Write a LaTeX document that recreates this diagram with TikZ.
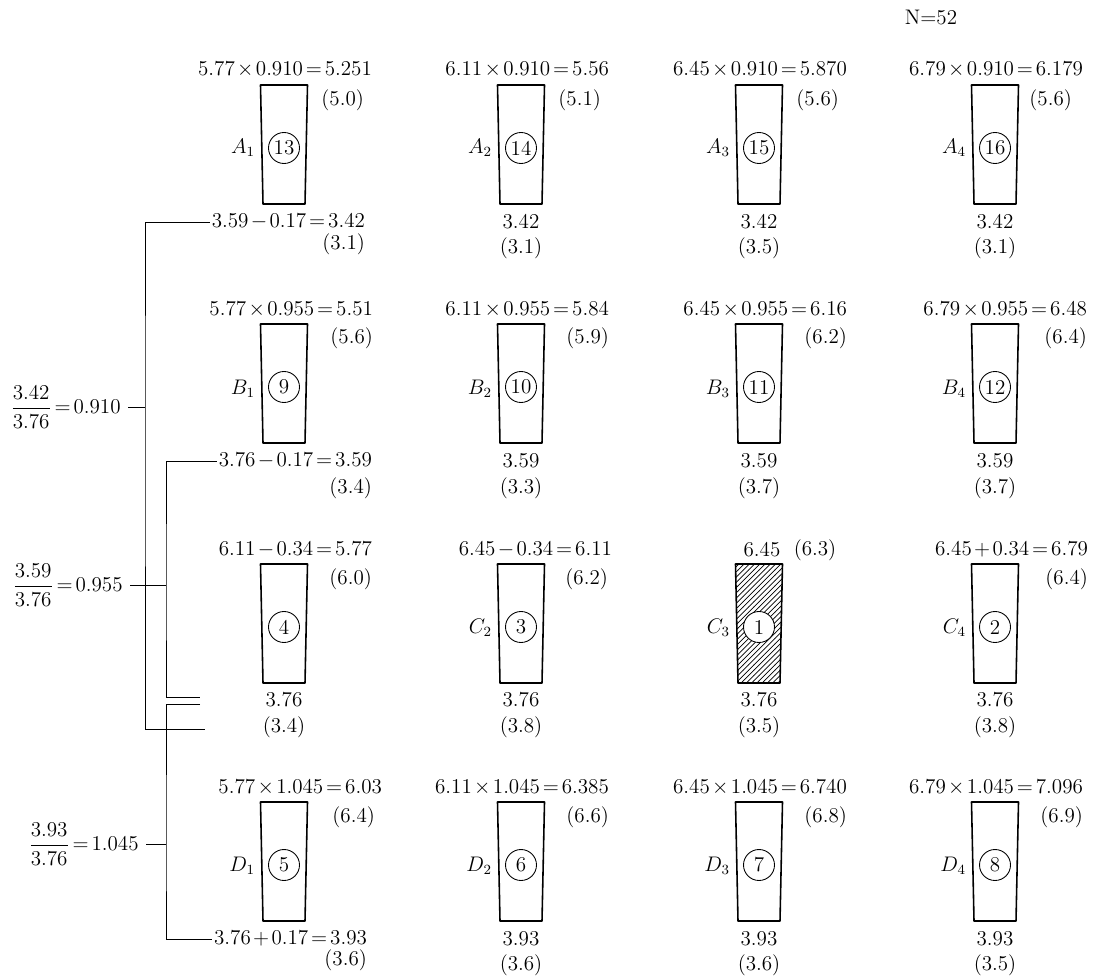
\documentclass[tikz,border=0pt]{standalone}
\usepackage{amsmath}
\usetikzlibrary{patterns}
\medmuskip=2mu
\thickmuskip=2.5mu
% one glass: options, x of centre, y of top, name, number
\newcommand{\glass}[5][]{%
  \draw[glassline,#1] ({#2-23.5},#3) -- ({#2+23.5},#3) -- ({#2+21},{#3+119})
     -- ({#2-21},{#3+119}) -- cycle;
  \node[num] (#4) at (#2,{#3+63}) {#5};}

\begin{document}
\begin{tikzpicture}[x=0.02cm,y=-0.02cm,
    every node/.style={font=\fontsize{12}{14}\selectfont,inner sep=1pt},
    num/.style={circle,draw,fill=white,minimum size=0.62cm,inner sep=0pt,line width=0.5pt},
    glassline/.style={line width=0.9pt,line join=round},
    top/.style={anchor=east},
    ratio/.style={anchor=east,inner sep=4pt},
    bracket/.style={line width=0.5pt}]
  \useasboundingbox (0,0) rectangle (1105,976);
  \node (n) at (931,18) {N$=$52};
  % row A
  \glass{284}{85}{g13}{13}
  \glass{521}{85}{g14}{14}
  \glass{759}{85}{g15}{15}
  \glass{995}{85}{g16}{16}
  \node[top] (a1t) at (374,70) {$5.77\times0.910=5.251$};
  \node[top] (a2t) at (611,70) {$6.11\times0.910=5.56$};
  \node[top] (a3t) at (849,70) {$6.45\times0.910=5.870$};
  \node[top] (a4t) at (1085,70) {$6.79\times0.910=6.179$};
  \node[top] (a1p) at (366,100) {(5.0)};
  \node[top] (a2p) at (603,100) {(5.1)};
  \node[top] (a3p) at (841,100) {(5.6)};
  \node[top] (a4p) at (1074,100) {(5.6)};
  \node[anchor=east] (a1) at (257,148) {$A_1$};
  \node[anchor=east] (a2) at (494,148) {$A_2$};
  \node[anchor=east] (a3) at (732,148) {$A_3$};
  \node[anchor=east] (a4) at (968,148) {$A_4$};
  \node[top] (a1bot) at (367,222) {$3.59-0.17=3.42$};
  \node[top] (a1q) at (367,244) {(3.1)};
  \node (a2bot) at (521,222) {$3.42$};
  \node (a2q) at (521,248) {(3.1)};
  \node (a3bot) at (759,222) {$3.42$};
  \node (a3q) at (759,248) {(3.5)};
  \node (a4bot) at (995,222) {$3.42$};
  \node (a4q) at (995,248) {(3.1)};
  % row B
  \glass{284}{324}{g9}{9}
  \glass{521}{324}{g10}{10}
  \glass{759}{324}{g11}{11}
  \glass{995}{324}{g12}{12}
  \node[top] (b1t) at (375,310) {$5.77\times0.955=5.51$};
  \node[top] (b2t) at (611,310) {$6.11\times0.955=5.84$};
  \node[top] (b3t) at (849,310) {$6.45\times0.955=6.16$};
  \node[top] (b4t) at (1089,310) {$6.79\times0.955=6.48$};
  \node[top] (b1p) at (375,338) {(5.6)};
  \node[top] (b2p) at (611,338) {(5.9)};
  \node[top] (b3p) at (849,338) {(6.2)};
  \node[top] (b4p) at (1089,338) {(6.4)};
  \node[anchor=east] (b1) at (257,389) {$B_1$};
  \node[anchor=east] (b2) at (494,389) {$B_2$};
  \node[anchor=east] (b3) at (732,389) {$B_3$};
  \node[anchor=east] (b4) at (968,389) {$B_4$};
  \node[top] (b1bot) at (374,461) {$3.76-0.17=3.59$};
  \node[top] (b1q) at (374,488) {(3.4)};
  \node (b2bot) at (521,461) {$3.59$};
  \node (b2q) at (521,488) {(3.3)};
  \node (b3bot) at (759,461) {$3.59$};
  \node (b3q) at (759,488) {(3.7)};
  \node (b4bot) at (995,461) {$3.59$};
  \node (b4q) at (995,488) {(3.7)};
  % row C
  \glass{284}{564}{g4}{4}
  \glass{521}{564}{g3}{3}
  \glass[pattern=north east lines]{759}{564}{g1}{1}
  \glass{995}{564}{g2}{2}
  \node[top] (c1t) at (374,550) {$6.11-0.34=5.77$};
  \node[top] (c2t) at (614,550) {$6.45-0.34=6.11$};
  \node (c3t) at (762,550) {$6.45$};
  \node[top] (c4t) at (1090,550) {$6.45+0.34=6.79$};
  \node[top] (c1p) at (374,579) {(6.0)};
  \node[top] (c2p) at (610,579) {(6.2)};
  \node (c3p) at (815,550) {(6.3)};
  \node[top] (c4p) at (1090,579) {(6.4)};
  \node[anchor=east] (c2) at (494,628) {$C_2$};
  \node[anchor=east] (c3) at (732,628) {$C_3$};
  \node[anchor=east] (c4) at (968,628) {$C_4$};
  \node (c1bot) at (284,700) {$3.76$};
  \node (c1q) at (284,727) {(3.4)};
  \node (c2bot) at (521,700) {$3.76$};
  \node (c2q) at (521,727) {(3.8)};
  \node (c3bot) at (759,700) {$3.76$};
  \node (c3q) at (759,727) {(3.5)};
  \node (c4bot) at (995,700) {$3.76$};
  \node (c4q) at (995,727) {(3.8)};
  % row D
  \glass{284}{802}{g5}{5}
  \glass{521}{802}{g6}{6}
  \glass{759}{802}{g7}{7}
  \glass{995}{802}{g8}{8}
  \node[top] (d1t) at (384,788) {$5.77\times1.045=6.03$};
  \node[top] (d2t) at (611,788) {$6.11\times1.045=6.385$};
  \node[top] (d3t) at (849,788) {$6.45\times1.045=6.740$};
  \node[top] (d4t) at (1085,788) {$6.79\times1.045=7.096$};
  \node[top] (d1p) at (377,817) {(6.4)};
  \node[top] (d2p) at (611,817) {(6.6)};
  \node[top] (d3p) at (849,817) {(6.8)};
  \node[top] (d4p) at (1085,817) {(6.9)};
  \node[anchor=east] (d1) at (257,866) {$D_1$};
  \node[anchor=east] (d2) at (494,866) {$D_2$};
  \node[anchor=east] (d3) at (732,866) {$D_3$};
  \node[anchor=east] (d4) at (968,866) {$D_4$};
  \node[top] (d1bot) at (369,939) {$3.76+0.17=3.93$};
  \node[top] (d1q) at (369,960) {(3.6)};
  \node (d2bot) at (521,939) {$3.93$};
  \node (d2q) at (521,965) {(3.6)};
  \node (d3bot) at (759,939) {$3.93$};
  \node (d3q) at (759,965) {(3.6)};
  \node (d4bot) at (995,939) {$3.93$};
  \node (d4q) at (995,965) {(3.5)};
  % ratios and brackets on the left
  \node[ratio] (t910) at (128,407) {$\dfrac{3.42}{3.76}=0.910$};
  \node[ratio] (t955) at (130,585) {$\dfrac{3.59}{3.76}=0.955$};
  \node[ratio] (t1045) at (146,844) {$\dfrac{3.93}{3.76}=1.045$};
  \coordinate (v910) at (145,407);
  \coordinate (v955) at (166,585);
  \coordinate (v1045) at (166,844);
  \coordinate (e1) at (205,729);
  \coordinate (e2) at (200,697);
  \coordinate (e3) at (200,704);
  \draw[bracket] (a1bot.west) -| (v910) |- (e1);
  \draw[bracket] (b1bot.west) -| (v955) |- (e2);
  \draw[bracket] (e3) -| (v1045) |- (d1bot.west);
  \foreach \t/\v in {t910/v910,t955/v955,t1045/v1045}
     \draw[bracket] (\t) -- (\v);
\end{tikzpicture}
\end{document}
